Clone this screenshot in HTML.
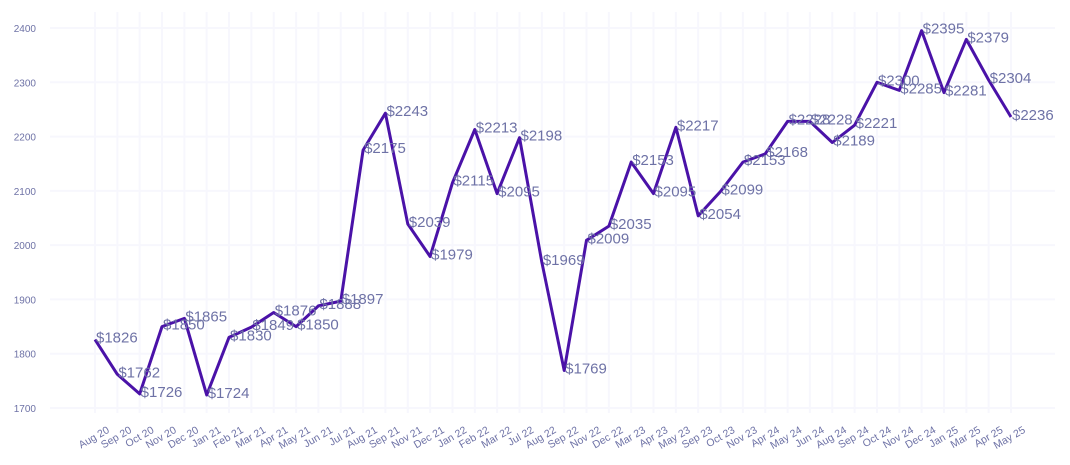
<!DOCTYPE html>
<html><head><meta charset="utf-8"><style>
body{margin:0;background:#fff;}
svg{display:block;font-family:"Liberation Sans",sans-serif;}
</style></head><body>
<svg id="chart" width="1070" height="465" viewBox="0 0 1070 465">
<g id="grid"></g>
<g id="yaxis"></g>
<g id="xaxis"></g>
<g id="series"></g>
<g id="labels"></g>
</svg>
<script>
const categories = ["Aug 20","Sep 20","Oct 20","Nov 20","Dec 20","Jan 21","Feb 21","Mar 21","Apr 21","May 21","Jun 21","Jul 21","Aug 21","Sep 21","Nov 21","Dec 21","Jan 22","Feb 22","Mar 22","Jul 22","Aug 22","Sep 22","Nov 22","Dec 22","Mar 23","Apr 23","May 23","Sep 23","Oct 23","Nov 23","Apr 24","May 24","Jun 24","Aug 24","Sep 24","Oct 24","Nov 24","Dec 24","Jan 25","Mar 25","Apr 25","May 25"];
const values = [1826,1762,1726,1850,1865,1724,1830,1849,1876,1850,1888,1897,2175,2243,2039,1979,2115,2213,2095,2198,1969,1769,2009,2035,2153,2095,2217,2054,2099,2153,2168,2228,2228,2189,2221,2300,2285,2395,2281,2379,2304,2236];
const yTicks = [1700,1800,1900,2000,2100,2200,2300,2400];

const NS = "http://www.w3.org/2000/svg";
const x0 = 95, x1 = 1011;
function xScale(i){ return x0 + (x1 - x0) * i / (categories.length - 1); }
function yScale(v){ return 408 - (v - 1700) * (380 / 700); }
function mk(tag, attrs, parent){ const e = document.createElementNS(NS, tag); for (const k in attrs) e.setAttribute(k, attrs[k]); parent.appendChild(e); return e; }

const grid = document.getElementById('grid');
const yaxis = document.getElementById('yaxis');
const xaxis = document.getElementById('xaxis');
yTicks.forEach(t => {
  const y = yScale(t);
  const l = mk('line', {x1:50, x2:1055, y1:y, y2:y, stroke:'#f7f7fd', 'stroke-width':2}, grid);
  
  
  const tx = mk('text', {x:36, y:y+4, 'text-anchor':'end', 'font-size':10, fill:'#6e72a6'}, yaxis);
  
  
  tx.textContent = t;
});
categories.forEach((c, i) => {
  const x = xScale(i);
  const l = mk('line', {x1:x, x2:x, y1:12, y2:413, stroke:'#f7f7fd', 'stroke-width':2}, grid);
  
  
  const ax = x + 15, ay = 432;
  const tx = mk('text', {x:ax, y:ay, 'text-anchor':'end', 'font-size':10.5, fill:'#6e72a6', transform:'rotate(-30 '+ax+' '+ay+')'}, xaxis);
  
  
  tx.textContent = c;
});

const series = document.getElementById('series');
const pts = values.map((v, i) => xScale(i).toFixed(1) + ',' + yScale(v).toFixed(1)).join(' ');
const pl = mk('polyline', {points:pts, fill:'none', stroke:'#4a12a8', 'stroke-width':3, 'stroke-linejoin':'round'}, series);



const labels = document.getElementById('labels');
values.forEach((v, i) => {
  const t = mk('text', {x:xScale(i)+1, y:yScale(v)+3, 'font-size':15, fill:'#6e72a6'}, labels);
  
  
  t.textContent = '$' + v;
});
</script>
</body></html>
